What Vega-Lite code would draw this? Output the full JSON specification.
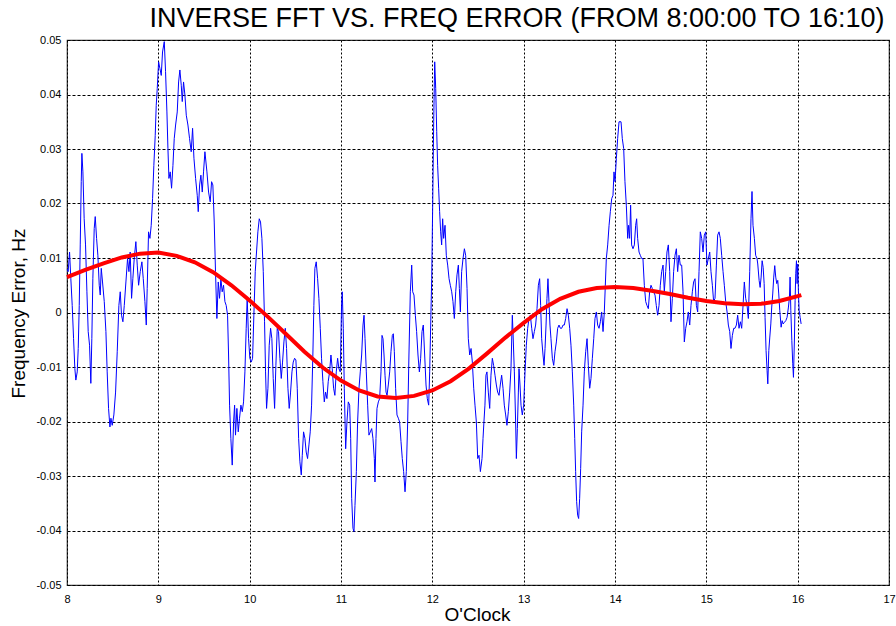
{
"$schema": "https://vega.github.io/schema/vega-lite/v6.json",
"width": 822, "height": 545,
"autosize": {"type": "none"},
"padding": {"left": 67, "top": 40, "right": 7, "bottom": 41},
"background": "white",
"title": {"text": "INVERSE FFT VS. FREQ ERROR (FROM 8:00:00 TO 16:10)", "fontSize": 27, "font": "Liberation Sans", "fontWeight": "normal", "color": "#000", "anchor": "middle", "dx": 39, "baseline": "alphabetic", "offset": -20},
"datasets": {
"blue": [
{"t":8.002,"f":0.008},{"t":8.013,"f":0.0075},{"t":8.028,"f":0.0111},{"t":8.042,"f":0.0062},{"t":8.057,"f":0.0013},{"t":8.072,"f":-0.0048},{"t":8.086,"f":-0.0103},{"t":8.097,"f":-0.0124},{"t":8.112,"f":-0.0109},{"t":8.123,"f":-0.0066},{"t":8.134,"f":0.0013},{"t":8.145,"f":0.0124},{"t":8.156,"f":0.024},{"t":8.163,"f":0.0292},{"t":8.174,"f":0.0258},{"t":8.188,"f":0.0172},{"t":8.203,"f":0.0124},{"t":8.218,"f":0.0038},{"t":8.232,"f":-0.0035},{"t":8.247,"f":-0.006},{"t":8.261,"f":-0.013},{"t":8.272,"f":-0.0048},{"t":8.283,"f":0.0062},{"t":8.298,"f":0.0154},{"t":8.309,"f":0.0176},{"t":8.324,"f":0.0136},{"t":8.338,"f":0.0105},{"t":8.353,"f":0.005},{"t":8.364,"f":0.0032},{"t":8.375,"f":0.0081},{"t":8.389,"f":0.0056},{"t":8.408,"f":0.002},{"t":8.426,"f":-0.0035},{"t":8.44,"f":-0.0109},{"t":8.455,"f":-0.0176},{"t":8.47,"f":-0.021},{"t":8.481,"f":-0.0194},{"t":8.495,"f":-0.0207},{"t":8.513,"f":-0.0188},{"t":8.532,"f":-0.0146},{"t":8.55,"f":-0.0072},{"t":8.568,"f":0.0013},{"t":8.583,"f":0.0038},{"t":8.597,"f":-0.0005},{"t":8.612,"f":-0.0017},{"t":8.627,"f":0.0013},{"t":8.645,"f":0.0056},{"t":8.663,"f":0.0099},{"t":8.678,"f":0.0075},{"t":8.692,"f":0.0111},{"t":8.707,"f":0.0026},{"t":8.721,"f":0.0062},{"t":8.736,"f":0.0099},{"t":8.754,"f":0.013},{"t":8.769,"f":0.0087},{"t":8.784,"f":0.005},{"t":8.802,"f":0.0075},{"t":8.82,"f":0.0093},{"t":8.835,"f":0.0062},{"t":8.853,"f":0.002},{"t":8.868,"f":-0.0023},{"t":8.878,"f":0.0044},{"t":8.893,"f":0.0148},{"t":8.908,"f":0.0136},{"t":8.922,"f":0.016},{"t":8.937,"f":0.0209},{"t":8.951,"f":0.027},{"t":8.966,"f":0.0325},{"t":8.977,"f":0.038},{"t":8.988,"f":0.0411},{"t":9.003,"f":0.046},{"t":9.017,"f":0.0448},{"t":9.032,"f":0.0435},{"t":9.046,"f":0.0478},{"t":9.065,"f":0.0497},{"t":9.079,"f":0.0442},{"t":9.094,"f":0.0368},{"t":9.105,"f":0.0301},{"t":9.116,"f":0.0246},{"t":9.13,"f":0.0258},{"t":9.145,"f":0.0228},{"t":9.16,"f":0.027},{"t":9.174,"f":0.0319},{"t":9.189,"f":0.0344},{"t":9.207,"f":0.0368},{"t":9.222,"f":0.0423},{"t":9.236,"f":0.0445},{"t":9.251,"f":0.0417},{"t":9.262,"f":0.0387},{"t":9.276,"f":0.0423},{"t":9.291,"f":0.0399},{"t":9.306,"f":0.0362},{"t":9.324,"f":0.0344},{"t":9.342,"f":0.0319},{"t":9.36,"f":0.0295},{"t":9.375,"f":0.0338},{"t":9.39,"f":0.0283},{"t":9.408,"f":0.0246},{"t":9.426,"f":0.0215},{"t":9.437,"f":0.0185},{"t":9.452,"f":0.0234},{"t":9.466,"f":0.0252},{"t":9.481,"f":0.0221},{"t":9.495,"f":0.0258},{"t":9.51,"f":0.0295},
{"t":9.532,"f":0.0258},{"t":9.55,"f":0.0221},{"t":9.568,"f":0.0203},{"t":9.583,"f":0.024},{"t":9.597,"f":0.0234},{"t":9.612,"f":0.0166},{"t":9.626,"f":0.0075},{"t":9.641,"f":-0.0011},{"t":9.656,"f":0.0056},{"t":9.67,"f":0.0026},{"t":9.685,"f":0.0062},{"t":9.699,"f":0.0038},{"t":9.714,"f":0.005},{"t":9.729,"f":0.002},{"t":9.743,"f":0.0013},{"t":9.758,"f":-0.0005},{"t":9.769,"f":-0.0078},{"t":9.78,"f":-0.017},{"t":9.794,"f":-0.0231},{"t":9.809,"f":-0.028},{"t":9.824,"f":-0.0201},{"t":9.835,"f":-0.017},{"t":9.845,"f":-0.0225},{"t":9.86,"f":-0.0176},{"t":9.875,"f":-0.0219},{"t":9.889,"f":-0.0194},{"t":9.904,"f":-0.017},{"t":9.919,"f":-0.0182},{"t":9.933,"f":-0.0164},{"t":9.948,"f":-0.0109},{"t":9.962,"f":-0.0029},{"t":9.973,"f":0.0026},{"t":9.988,"f":-0.0048},{"t":10.002,"f":-0.0084},{"t":10.017,"f":-0.0091},{"t":10.032,"f":-0.0084},{"t":10.046,"f":-0.0005},{"t":10.061,"f":0.0075},{"t":10.075,"f":0.0111},{"t":10.09,"f":0.0148},{"t":10.105,"f":0.0172},{"t":10.119,"f":0.0166},{"t":10.134,"f":0.0136},{"t":10.149,"f":0.0075},{"t":10.163,"f":-0.0017},{"t":10.174,"f":-0.0109},{"t":10.185,"f":-0.0176},{"t":10.2,"f":-0.0139},{"t":10.214,"f":-0.006},{"t":10.229,"f":-0.0029},{"t":10.243,"f":-0.0048},{"t":10.258,"f":-0.0121},{"t":10.273,"f":-0.0176},{"t":10.287,"f":-0.0097},{"t":10.302,"f":-0.0029},{"t":10.316,"f":-0.0035},{"t":10.331,"f":-0.0084},{"t":10.346,"f":-0.0121},{"t":10.36,"f":-0.0091},{"t":10.375,"f":-0.0054},{"t":10.39,"f":-0.0029},{"t":10.404,"f":-0.0066},{"t":10.419,"f":-0.0139},{"t":10.433,"f":-0.0176},{"t":10.448,"f":-0.0146},{"t":10.463,"f":-0.0109},{"t":10.477,"f":-0.0091},{"t":10.492,"f":-0.0084},{"t":10.506,"f":-0.0087},{"t":10.521,"f":-0.0139},{"t":10.536,"f":-0.0231},{"t":10.55,"f":-0.0274},{"t":10.565,"f":-0.0298},{"t":10.576,"f":-0.0262},{"t":10.59,"f":-0.0219},{"t":10.605,"f":-0.0231},{"t":10.619,"f":-0.0256},{"t":10.634,"f":-0.0268},{"t":10.649,"f":-0.0243},{"t":10.663,"f":-0.0219},{"t":10.678,"f":-0.017},{"t":10.692,"f":-0.0078},{"t":10.703,"f":0.0013},{"t":10.714,"f":0.0081},{"t":10.729,"f":0.0093},{"t":10.744,"f":0.0062},{"t":10.758,"f":0.0026},{"t":10.773,"f":-0.0029},{"t":10.787,"f":-0.0084},{"t":10.802,"f":-0.0127},{"t":10.817,"f":-0.0164},{"t":10.831,"f":-0.0146},{"t":10.846,"f":-0.0158},{"t":10.86,"f":-0.0127},{"t":10.875,"f":-0.0109},{"t":10.89,"f":-0.0078},{"t":10.904,"f":-0.0103},{"t":10.919,"f":-0.0139},{"t":10.933,"f":-0.0152},{"t":10.948,"f":-0.0109},{"t":10.963,"f":-0.0084},{"t":10.977,"f":-0.0103},{"t":10.992,"f":-0.0109},{"t":11.006,"f":0.0013},{"t":11.014,"f":0.0038},
{"t":11.025,"f":-0.0029},{"t":11.036,"f":-0.0139},{"t":11.051,"f":-0.025},{"t":11.065,"f":-0.0201},{"t":11.08,"f":-0.0164},{"t":11.095,"f":-0.017},{"t":11.106,"f":-0.0231},{"t":11.117,"f":-0.0341},{"t":11.131,"f":-0.0396},{"t":11.142,"f":-0.0402},{"t":11.153,"f":-0.0354},{"t":11.168,"f":-0.0292},{"t":11.182,"f":-0.0201},{"t":11.197,"f":-0.0139},{"t":11.211,"f":-0.0109},{"t":11.226,"f":-0.0078},{"t":11.241,"f":-0.0023},{"t":11.252,"f":-0.0005},{"t":11.263,"f":-0.0048},{"t":11.277,"f":-0.0109},{"t":11.292,"f":-0.017},{"t":11.306,"f":-0.0225},{"t":11.321,"f":-0.0219},{"t":11.336,"f":-0.0213},{"t":11.35,"f":-0.0231},{"t":11.365,"f":-0.0268},{"t":11.372,"f":-0.0311},{"t":11.383,"f":-0.0231},{"t":11.394,"f":-0.0176},{"t":11.409,"f":-0.0164},{"t":11.423,"f":-0.0158},{"t":11.438,"f":-0.0109},{"t":11.449,"f":-0.0042},{"t":11.46,"f":-0.0048},{"t":11.471,"f":-0.0078},{"t":11.482,"f":-0.0115},{"t":11.493,"f":-0.0146},{"t":11.504,"f":-0.0152},{"t":11.518,"f":-0.0133},{"t":11.533,"f":-0.0109},{"t":11.547,"f":-0.0072},{"t":11.562,"f":-0.0042},{"t":11.573,"f":-0.0039},{"t":11.584,"f":-0.0072},{"t":11.598,"f":-0.0139},{"t":11.613,"f":-0.0188},{"t":11.628,"f":-0.0194},{"t":11.642,"f":-0.0201},{"t":11.657,"f":-0.0237},{"t":11.671,"f":-0.0268},{"t":11.686,"f":-0.0292},{"t":11.701,"f":-0.0329},{"t":11.715,"f":-0.0292},{"t":11.73,"f":-0.0201},{"t":11.744,"f":-0.0078},{"t":11.759,"f":0.0038},{"t":11.774,"f":0.0087},{"t":11.785,"f":0.0038},{"t":11.799,"f":0.0032},{"t":11.814,"f":-0.0005},{"t":11.828,"f":-0.0035},{"t":11.843,"f":-0.0078},{"t":11.858,"f":-0.0109},{"t":11.872,"f":-0.0084},{"t":11.887,"f":-0.0035},{"t":11.901,"f":-0.0023},{"t":11.916,"f":-0.0078},{"t":11.931,"f":-0.0133},{"t":11.945,"f":-0.0158},{"t":11.96,"f":-0.017},{"t":11.971,"f":-0.0109},{"t":11.982,"f":-0.0023},{"t":11.993,"f":0.0062},{"t":12.004,"f":0.0197},{"t":12.015,"f":0.035},{"t":12.026,"f":0.046},{"t":12.037,"f":0.0411},{"t":12.048,"f":0.0332},{"t":12.058,"f":0.027},{"t":12.069,"f":0.0228},{"t":12.08,"f":0.0185},{"t":12.091,"f":0.0148},{"t":12.102,"f":0.0124},{"t":12.113,"f":0.0172},{"t":12.124,"f":0.0136},{"t":12.139,"f":0.016},{"t":12.153,"f":0.0105},{"t":12.168,"f":0.0087},{"t":12.183,"f":0.0062},{"t":12.197,"f":0.005},{"t":12.212,"f":0.0038},{"t":12.226,"f":0.002},{"t":12.241,"f":-0.0011},{"t":12.256,"f":0.0038},{"t":12.27,"f":0.0069},{"t":12.285,"f":0.0087},{"t":12.296,"f":0.0044},{"t":12.307,"f":0.0001},{"t":12.321,"f":0.0075},{"t":12.336,"f":0.0099},{"t":12.351,"f":0.0117},{"t":12.365,"f":0.0105},{"t":12.38,"f":0.0044},{"t":12.394,"f":-0.0048},{"t":12.409,"f":-0.0078},{"t":12.424,"f":-0.0066},{"t":12.438,"f":-0.0091},{"t":12.453,"f":-0.0139},{"t":12.467,"f":-0.017},{"t":12.482,"f":-0.0201},{"t":12.497,"f":-0.0268},{"t":12.511,"f":-0.0262},{"t":12.526,"f":-0.0292},
{"t":12.544,"f":-0.0268},{"t":12.555,"f":-0.0231},{"t":12.565,"f":-0.0201},{"t":12.576,"f":-0.017},{"t":12.587,"f":-0.0115},{"t":12.598,"f":-0.0109},{"t":12.613,"f":-0.0146},{"t":12.628,"f":-0.0176},{"t":12.642,"f":-0.0115},{"t":12.657,"f":-0.0084},{"t":12.671,"f":-0.0097},{"t":12.686,"f":-0.0115},{"t":12.701,"f":-0.0133},{"t":12.715,"f":-0.0146},{"t":12.73,"f":-0.0152},{"t":12.744,"f":-0.0133},{"t":12.759,"f":-0.0115},{"t":12.774,"f":-0.0139},{"t":12.788,"f":-0.017},{"t":12.803,"f":-0.0188},{"t":12.817,"f":-0.0207},{"t":12.832,"f":-0.0182},{"t":12.847,"f":-0.0146},{"t":12.861,"f":-0.0103},{"t":12.876,"f":-0.0005},{"t":12.883,"f":-0.0035},{"t":12.898,"f":-0.0109},{"t":12.912,"f":-0.0201},{"t":12.92,"f":-0.0268},{"t":12.931,"f":-0.0213},{"t":12.942,"f":-0.0146},{"t":12.949,"f":-0.0103},{"t":12.96,"f":-0.0133},{"t":12.971,"f":-0.017},{"t":12.985,"f":-0.0188},{"t":13.0,"f":-0.017},{"t":13.015,"f":-0.0109},{"t":13.029,"f":-0.006},{"t":13.044,"f":-0.0029},{"t":13.058,"f":-0.0011},{"t":13.073,"f":-0.0005},{"t":13.088,"f":-0.0029},{"t":13.102,"f":-0.0048},{"t":13.117,"f":-0.0035},{"t":13.131,"f":-0.0023},{"t":13.146,"f":0.0007},{"t":13.161,"f":0.005},{"t":13.175,"f":0.0062},{"t":13.186,"f":0.0013},{"t":13.197,"f":-0.0048},{"t":13.212,"f":-0.0078},{"t":13.223,"f":-0.0097},{"t":13.234,"f":-0.0066},{"t":13.245,"f":-0.0023},{"t":13.255,"f":0.0026},{"t":13.266,"f":0.0062},{"t":13.277,"f":0.002},{"t":13.288,"f":-0.0023},{"t":13.299,"f":-0.0048},{"t":13.314,"f":-0.0084},{"t":13.329,"f":-0.0097},{"t":13.343,"f":-0.0072},{"t":13.358,"f":-0.0054},{"t":13.372,"f":-0.0029},{"t":13.387,"f":-0.0023},{"t":13.402,"f":-0.0029},{"t":13.416,"f":-0.0029},{"t":13.431,"f":-0.0023},{"t":13.445,"f":-0.0023},{"t":13.46,"f":-0.0011},{"t":13.475,"f":0.0007},{"t":13.489,"f":-0.0005},{"t":13.504,"f":-0.0029},{"t":13.518,"f":-0.006},{"t":13.533,"f":-0.0109},{"t":13.548,"f":-0.017},{"t":13.559,"f":-0.0231},{"t":13.569,"f":-0.0292},{"t":13.58,"f":-0.0347},{"t":13.591,"f":-0.0372},{"t":13.602,"f":-0.0378},{"t":13.613,"f":-0.0341},{"t":13.624,"f":-0.0286},{"t":13.635,"f":-0.0219},{"t":13.65,"f":-0.017},{"t":13.664,"f":-0.0109},{"t":13.679,"f":-0.0072},{"t":13.694,"f":-0.0048},{"t":13.708,"f":-0.0097},{"t":13.723,"f":-0.0139},{"t":13.737,"f":-0.0121},{"t":13.752,"f":-0.0084},{"t":13.767,"f":-0.0048},{"t":13.781,"f":-0.0011},{"t":13.796,"f":0.0001},{"t":13.81,"f":-0.0023},{"t":13.825,"f":-0.0029},{"t":13.84,"f":-0.0017},{"t":13.854,"f":0.0001},{"t":13.869,"f":-0.0035},{"t":13.883,"f":0.0001},{"t":13.894,"f":0.005},{"t":13.905,"f":0.0099},{"t":13.92,"f":0.0124},{"t":13.935,"f":0.016},{"t":13.949,"f":0.0185},{"t":13.964,"f":0.0209},{"t":13.978,"f":0.0215},{"t":13.989,"f":0.0258},{"t":14.0,"f":0.024},{"t":14.015,"f":0.0283},{"t":14.029,"f":0.0319},{"t":14.044,"f":0.035},
{"t":14.066,"f":0.035},{"t":14.08,"f":0.0319},{"t":14.095,"f":0.0301},{"t":14.109,"f":0.024},{"t":14.124,"f":0.0197},{"t":14.139,"f":0.0136},{"t":14.149,"f":0.016},{"t":14.16,"f":0.0136},{"t":14.171,"f":0.0197},{"t":14.182,"f":0.0124},{"t":14.197,"f":0.0117},{"t":14.212,"f":0.0124},{"t":14.226,"f":0.016},{"t":14.237,"f":0.0172},{"t":14.248,"f":0.0136},{"t":14.263,"f":0.0111},{"t":14.277,"f":0.0105},{"t":14.292,"f":0.0099},{"t":14.306,"f":0.0099},{"t":14.321,"f":0.005},{"t":14.336,"f":0.002},{"t":14.35,"f":0.0013},{"t":14.365,"f":0.0007},{"t":14.379,"f":0.0038},{"t":14.394,"f":0.005},{"t":14.409,"f":0.0044},{"t":14.423,"f":0.0038},{"t":14.438,"f":0.0032},{"t":14.452,"f":0.0013},{"t":14.467,"f":-0.0005},{"t":14.482,"f":0.0013},{"t":14.496,"f":0.005},{"t":14.511,"f":0.0075},{"t":14.526,"f":0.0087},{"t":14.54,"f":0.0038},{"t":14.555,"f":0.0075},{"t":14.569,"f":0.0111},{"t":14.584,"f":0.0124},{"t":14.599,"f":0.0075},{"t":14.613,"f":-0.0017},{"t":14.628,"f":0.0026},{"t":14.642,"f":0.0075},{"t":14.657,"f":0.0105},{"t":14.672,"f":0.0117},{"t":14.686,"f":0.0075},{"t":14.701,"f":0.0105},{"t":14.715,"f":0.0087},{"t":14.73,"f":0.0087},{"t":14.745,"f":0.0038},{"t":14.759,"f":-0.0054},{"t":14.774,"f":-0.0029},{"t":14.788,"f":-0.0017},{"t":14.803,"f":0.0001},{"t":14.818,"f":-0.0023},{"t":14.832,"f":0.0013},{"t":14.847,"f":0.0038},{"t":14.861,"f":0.0056},{"t":14.876,"f":0.0062},{"t":14.891,"f":0.0013},{"t":14.905,"f":0.0001},{"t":14.92,"f":0.0075},{"t":14.934,"f":0.0148},{"t":14.949,"f":0.0136},{"t":14.964,"f":0.0111},{"t":14.978,"f":0.0142},{"t":14.993,"f":0.0148},{"t":15.007,"f":0.0087},{"t":15.022,"f":0.0099},{"t":15.037,"f":0.0111},{"t":15.051,"f":0.0075},{"t":15.066,"f":0.005},{"t":15.08,"f":0.002},{"t":15.095,"f":0.0026},{"t":15.11,"f":0.0087},{"t":15.124,"f":0.0142},{"t":15.139,"f":0.0148},{"t":15.153,"f":0.0136},{"t":15.168,"f":0.0105},{"t":15.183,"f":0.0075},{"t":15.197,"f":0.005},{"t":15.212,"f":0.002},{"t":15.227,"f":0.0001},{"t":15.241,"f":-0.0023},{"t":15.256,"f":-0.0035},{"t":15.27,"f":-0.0066},{"t":15.285,"f":-0.0042},{"t":15.3,"f":-0.0029},{"t":15.314,"f":-0.0029},{"t":15.329,"f":-0.0023},{"t":15.343,"f":-0.0005},{"t":15.358,"f":-0.0029},{"t":15.373,"f":-0.0017},{"t":15.387,"f":-0.0029},{"t":15.402,"f":0.0013},{"t":15.416,"f":0.0056},{"t":15.431,"f":0.0026},{"t":15.446,"f":0.0013},{"t":15.46,"f":-0.0011},{"t":15.475,"f":0.0075},{"t":15.489,"f":0.0172},{"t":15.5,"f":0.0222},{"t":15.511,"f":0.016},{"t":15.526,"f":0.0136},{"t":15.54,"f":0.0105},{"t":15.555,"f":0.0099},
{"t":15.563,"f":0.0089},{"t":15.578,"f":0.0059},{"t":15.589,"f":0.0046},{"t":15.6,"f":0.0065},{"t":15.611,"f":0.0095},{"t":15.622,"f":0.0083},{"t":15.633,"f":0.0053},{"t":15.643,"f":-0.0009},{"t":15.654,"f":-0.007},{"t":15.665,"f":-0.0106},{"t":15.673,"f":-0.0131},{"t":15.684,"f":-0.007},{"t":15.695,"f":-0.0045},{"t":15.706,"f":-0.0021},{"t":15.716,"f":0.001},{"t":15.727,"f":0.0034},{"t":15.738,"f":0.0065},{"t":15.749,"f":0.0086},{"t":15.76,"f":0.0065},{"t":15.771,"f":0.0053},{"t":15.782,"f":0.0059},{"t":15.793,"f":0.0034},{"t":15.804,"f":0.0004},{"t":15.819,"f":-0.0027},{"t":15.83,"f":-0.0015},{"t":15.841,"f":-0.0021},{"t":15.855,"f":-0.0018},{"t":15.87,"f":-0.0015},{"t":15.884,"f":-0.0009},{"t":15.899,"f":0.001},{"t":15.91,"f":0.0028},{"t":15.917,"f":0.0065},{"t":15.925,"f":0.0004},{"t":15.936,"f":-0.0051},{"t":15.946,"f":-0.0094},{"t":15.954,"f":-0.0119},{"t":15.965,"f":-0.0045},{"t":15.972,"f":0.0022},{"t":15.979,"f":0.0071},{"t":15.987,"f":0.0095},{"t":15.994,"f":0.0053},{"t":16.001,"f":0.0089},{"t":16.008,"f":0.004},{"t":16.016,"f":0.0004},{"t":16.027,"f":-0.0009},{"t":16.038,"f":-0.0021}
],
"red": [
{"t":8.0,"f":0.0065},{"t":8.2,"f":0.0078},{"t":8.4,"f":0.009},{"t":8.6,"f":0.0101},{"t":8.8,"f":0.0108},{"t":9.0,"f":0.011},{"t":9.2,"f":0.0104},{"t":9.4,"f":0.0092},{"t":9.6,"f":0.0074},{"t":9.8,"f":0.005},{"t":10.0,"f":0.0022},{"t":10.2,"f":-0.0008},{"t":10.4,"f":-0.004},{"t":10.6,"f":-0.0072},{"t":10.8,"f":-0.0101},{"t":11.0,"f":-0.0125},{"t":11.2,"f":-0.0143},{"t":11.4,"f":-0.0154},{"t":11.6,"f":-0.0157},{"t":11.8,"f":-0.0153},{"t":12.0,"f":-0.0143},{"t":12.2,"f":-0.0126},{"t":12.4,"f":-0.0103},{"t":12.6,"f":-0.0075},{"t":12.8,"f":-0.0046},{"t":13.0,"f":-0.0019},{"t":13.2,"f":0.0006},{"t":13.4,"f":0.0025},{"t":13.6,"f":0.0038},{"t":13.8,"f":0.0045},{"t":14.0,"f":0.0047},{"t":14.2,"f":0.0045},{"t":14.4,"f":0.004},{"t":14.6,"f":0.0034},{"t":14.8,"f":0.0027},{"t":15.0,"f":0.0021},{"t":15.2,"f":0.0017},{"t":15.4,"f":0.0015},{"t":15.6,"f":0.0016},{"t":15.8,"f":0.0021},{"t":16.0,"f":0.003},{"t":16.04,"f":0.0032}
]
},
"layer": [
{"data": {"name": "blue"},
 "mark": {"type": "line", "color": "#0000ff", "strokeWidth": 1},
 "encoding": {
  "x": {"field": "t", "type": "quantitative", "scale": {"domain": [8, 17], "nice": false, "zero": false},
        "axis": {"title": "O'Clock", "values": [8,9,10,11,12,13,14,15,16,17], "labelExpr": "'' + datum.value", "gridDash": [2,2], "titleX": 410, "titleY": 35, "titleBaseline": "alphabetic", "titleAlign": "center"}},
  "y": {"field": "f", "type": "quantitative", "scale": {"domain": [-0.05, 0.05], "nice": false, "zero": false},
        "axis": {"title": "Frequency Error, Hz", "values": [-0.05,-0.04,-0.03,-0.02,-0.01,0,0.01,0.02,0.03,0.04,0.05], "labelExpr": "'' + datum.value", "gridDash": [3,2], "titleX": -49, "titleY": 273, "titleAngle": -90, "titleAlign": "center", "titleBaseline": "middle", "labelPadding": 6}}
 }},
{"data": {"name": "red"},
 "mark": {"type": "line", "color": "#ff0000", "strokeWidth": 4},
 "encoding": {
  "x": {"field": "t", "type": "quantitative"},
  "y": {"field": "f", "type": "quantitative"}
 }}
],
"config": {
 "view": {"stroke": "#333333", "strokeWidth": 1.2},
 "axis": {"grid": true, "gridColor": "#000000", "gridOpacity": 1, "gridWidth": 1, "ticks": false, "domain": false,
   "labelFont": "Liberation Sans", "labelFontSize": 11, "labelColor": "#000000", "labelPadding": 8, "labelFlush": false, "labelOverlap": false,
   "titleFont": "Liberation Sans", "titleFontSize": 19, "titleFontWeight": "normal", "titleColor": "#000000"}
}
}
